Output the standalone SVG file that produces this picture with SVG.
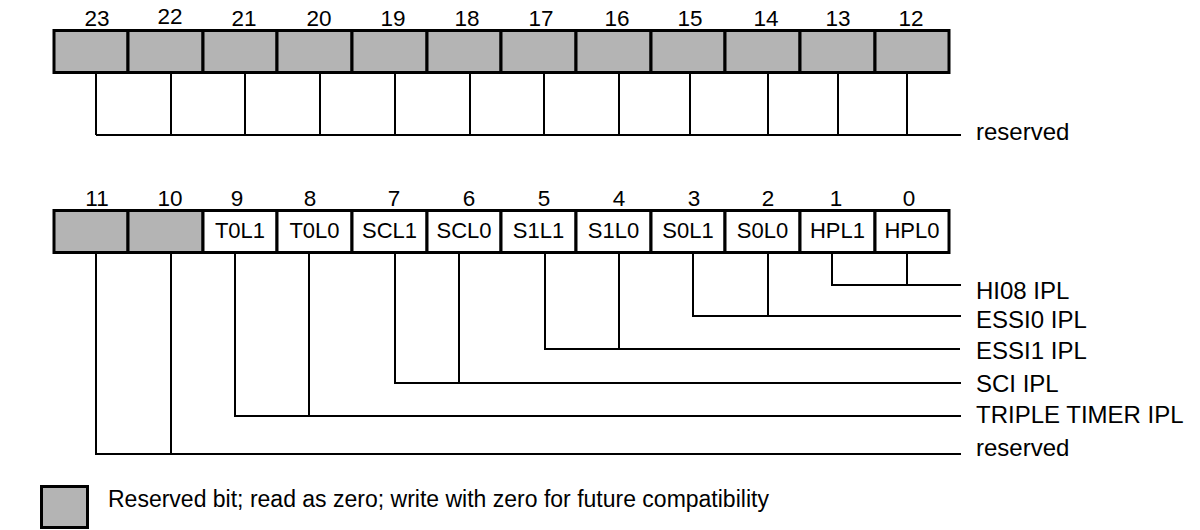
<svg xmlns="http://www.w3.org/2000/svg" width="1200" height="530" viewBox="0 0 1200 530">
<style>
text{font-family:"Liberation Sans",Arial,sans-serif;fill:#000}
.num{font-size:22.5px;text-anchor:middle}
.cell{font-size:22px;text-anchor:middle}
.lbl{font-size:24px}
.leg{font-size:23px}
.res{fill:#b4b4b4;stroke:#000;stroke-width:3}
.bit{fill:#fff;stroke:#000;stroke-width:3}
.ln{fill:none;stroke:#000;stroke-width:2}
</style>
<rect width="1200" height="530" fill="#fff"/>
<g id="top-register">
<rect class="res" x="54" y="30.5" width="74" height="42"/>
<rect class="res" x="128" y="30.5" width="75" height="42"/>
<rect class="res" x="203" y="30.5" width="74" height="42"/>
<rect class="res" x="277" y="30.5" width="75" height="42"/>
<rect class="res" x="352" y="30.5" width="75" height="42"/>
<rect class="res" x="427" y="30.5" width="74" height="42"/>
<rect class="res" x="501" y="30.5" width="75" height="42"/>
<rect class="res" x="576" y="30.5" width="75" height="42"/>
<rect class="res" x="651" y="30.5" width="74" height="42"/>
<rect class="res" x="725" y="30.5" width="75" height="42"/>
<rect class="res" x="800" y="30.5" width="75" height="42"/>
<rect class="res" x="875" y="30.5" width="74" height="42"/>
<text class="num" x="97" y="26">23</text>
<text class="num" x="170" y="24">22</text>
<text class="num" x="244" y="26">21</text>
<text class="num" x="319" y="26">20</text>
<text class="num" x="393" y="26">19</text>
<text class="num" x="467" y="26">18</text>
<text class="num" x="541" y="26">17</text>
<text class="num" x="617" y="26">16</text>
<text class="num" x="690" y="26">15</text>
<text class="num" x="766" y="26">14</text>
<text class="num" x="838" y="26">13</text>
<text class="num" x="911" y="26">12</text>
</g>
<g id="bottom-register">
<rect class="res" x="54" y="210.5" width="74" height="42"/>
<rect class="res" x="128" y="210.5" width="75" height="42"/>
<rect class="bit" x="203" y="210.5" width="74" height="42"/>
<rect class="bit" x="277" y="210.5" width="75" height="42"/>
<rect class="bit" x="352" y="210.5" width="75" height="42"/>
<rect class="bit" x="427" y="210.5" width="74" height="42"/>
<rect class="bit" x="501" y="210.5" width="75" height="42"/>
<rect class="bit" x="576" y="210.5" width="75" height="42"/>
<rect class="bit" x="651" y="210.5" width="74" height="42"/>
<rect class="bit" x="725" y="210.5" width="75" height="42"/>
<rect class="bit" x="800" y="210.5" width="75" height="42"/>
<rect class="bit" x="875" y="210.5" width="74" height="42"/>
<text class="num" x="97" y="206">11</text>
<text class="num" x="170" y="206">10</text>
<text class="num" x="237" y="206">9</text>
<text class="num" x="310" y="206">8</text>
<text class="num" x="394" y="206">7</text>
<text class="num" x="469" y="206">6</text>
<text class="num" x="544" y="206">5</text>
<text class="num" x="619" y="206">4</text>
<text class="num" x="694" y="206">3</text>
<text class="num" x="768" y="206">2</text>
<text class="num" x="836" y="206">1</text>
<text class="num" x="909" y="206">0</text>
<text class="cell" x="240" y="238">T0L1</text>
<text class="cell" x="314.5" y="238">T0L0</text>
<text class="cell" x="389.5" y="238">SCL1</text>
<text class="cell" x="464" y="238">SCL0</text>
<text class="cell" x="538.5" y="238">S1L1</text>
<text class="cell" x="613.5" y="238">S1L0</text>
<text class="cell" x="688" y="238">S0L1</text>
<text class="cell" x="762.5" y="238">S0L0</text>
<text class="cell" x="837.5" y="238">HPL1</text>
<text class="cell" x="912" y="238">HPL0</text>
</g>
<g id="connectors">
<path class="ln" d="M96 73V135M171 73V135M245 73V135M320 73V135M395 73V135M470 73V135M544 73V135M619 73V135M690 73V135M768 73V135M838 73V135M907 73V135M96 135H961"/>
<path class="ln" d="M832 253V285H961M907 253V285"/>
<path class="ln" d="M693 253V316H961M768 253V316"/>
<path class="ln" d="M545 253V349H960M619 253V349"/>
<path class="ln" d="M395 253V383H961M459 253V383"/>
<path class="ln" d="M235 253V416H961M309 253V416"/>
<path class="ln" d="M96 253V454H961M171 253V454"/>
</g>
<g id="labels">
<text class="lbl" x="976" y="140">reserved</text>
<text class="lbl" x="976" y="299">HI08 IPL</text>
<text class="lbl" x="976" y="328">ESSI0 IPL</text>
<text class="lbl" x="976" y="359">ESSI1 IPL</text>
<text class="lbl" x="976" y="392">SCI IPL</text>
<text class="lbl" x="976" y="423">TRIPLE TIMER IPL</text>
<text class="lbl" x="976" y="456">reserved</text>
</g>
<g id="legend">
<rect class="res" x="41.5" y="486.5" width="46" height="41"/>
<text class="leg" x="108" y="507">Reserved bit; read as zero; write with zero for future compatibility</text>
</g>
</svg>
